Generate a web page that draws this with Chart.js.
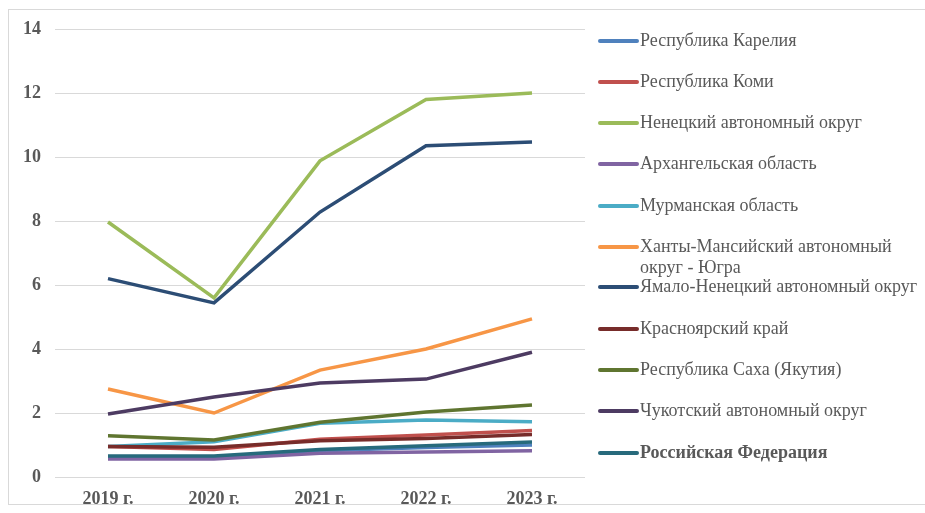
<!DOCTYPE html>
<html>
<head>
<meta charset="utf-8">
<script src="https://cdn.jsdelivr.net/npm/chart.js@4"></script>
<style>
    html, body { margin: 0; padding: 0; background: #fff; }
    #wrap { position: relative; width: 925px; height: 513px; overflow: hidden; }
    #frame { position: absolute; left: 8px; top: 9px; width: 930px; height: 496px; border: 1px solid #d9d9d9; box-sizing: border-box; }
    #chart { position: absolute; left: 0; top: 0; }
    #legend { position: absolute; left: 598px; top: 0; font-family: 'Liberation Serif', 'Times New Roman', serif; font-size: 18px; color: #595959; }
    .item { position: absolute; left: 0; white-space: nowrap; line-height: 21px; }
    .item .swatch { position: absolute; left: 0; top: 9px; width: 41px; height: 4px; border-radius: 2px; }
    .item .txt { position: absolute; left: 42px; top: 0; }
</style>
</head>
<body>
<div id="wrap">
    <div id="frame"></div>
    <canvas id="chart" width="925" height="513"></canvas>
    <div id="legend"></div>
</div>
<script>
// Categories and series
const years = ['2019 г.', '2020 г.', '2021 г.', '2022 г.', '2023 г.'];

const karelia      = [0.62, 0.62, 0.82, 0.92, 1.00];
const komi         = [0.95, 0.86, 1.18, 1.31, 1.45];
const nenets       = [7.97, 5.60, 9.88, 11.80, 12.00];
const arkhangelsk  = [0.56, 0.56, 0.74, 0.78, 0.82];
const murmansk     = [0.95, 1.10, 1.68, 1.78, 1.73];
const khmao        = [2.75, 2.00, 3.34, 4.00, 4.94];
const yamal        = [6.20, 5.44, 8.28, 10.35, 10.47];
const krasnoyarsk  = [0.95, 0.93, 1.13, 1.20, 1.33];
const sakha        = [1.29, 1.16, 1.71, 2.03, 2.25];
const chukotka     = [1.97, 2.50, 2.94, 3.06, 3.90];
const russia       = [0.66, 0.66, 0.86, 0.98, 1.09];

const yTicks = [0, 2, 4, 6, 8, 10, 12, 14];

const seriesNames = [
    'Республика Карелия', 'Республика Коми', 'Ненецкий автономный округ',
    'Архангельская область', 'Мурманская область',
    ['Ханты-Мансийский автономный', 'округ - Югра'],
    'Ямало-Ненецкий автономный округ', 'Красноярский край',
    'Республика Саха (Якутия)', 'Чукотский автономный округ', 'Российская Федерация'
];
const seriesData = [karelia, komi, nenets, arkhangelsk, murmansk, khmao, yamal, krasnoyarsk, sakha, chukotka, russia];
const seriesColors = ['#4f81bd', '#c0504d', '#9bbb59', '#8064a2', '#4bacc6', '#f79646',
                      '#2c4d75', '#772c2a', '#5f7530', '#4d3b62', '#276a7c'];

const font = "'Liberation Serif', 'Times New Roman', serif";

const datasets = seriesData.map((d, i) => ({
    label: Array.isArray(seriesNames[i]) ? seriesNames[i].join(' ') : seriesNames[i],
    data: d,
    borderColor: seriesColors[i],
    backgroundColor: seriesColors[i],
    borderWidth: 3.5,
    pointRadius: 0,
    tension: 0,
    order: seriesData.length - 1 - i   // later series on top, like Excel
}));

new Chart(document.getElementById('chart'), {
    type: 'line',
    data: { labels: years, datasets: datasets },
    options: {
        responsive: false,
        animation: false,
        layout: { padding: { top: 29, right: 340, bottom: 0, left: 0 } },
        plugins: { legend: { display: false }, tooltip: { enabled: false } },
        scales: {
            x: {
                offset: true,
                grid: { display: false },
                border: { display: false },
                ticks: { color: '#595959', font: { family: font, size: 18, weight: 'bold' }, padding: 4 },
                afterFit: (s) => { s.height = 36; }
            },
            y: {
                min: 0,
                max: 14,
                afterBuildTicks: (s) => { s.ticks = yTicks.map(v => ({ value: v })); },
                grid: { color: '#d9d9d9', lineWidth: 1, drawTicks: false },
                border: { display: false },
                ticks: { color: '#595959', font: { family: font, size: 18, weight: 'bold' }, padding: 14 },
                afterFit: (s) => { s.width = 55; }
            }
        }
    }
});

// HTML legend built from the dataset names
const legendTops = [30, 71, 112, 153, 195, 236, 276, 318, 359, 400, 442];
const legend = document.getElementById('legend');
seriesNames.forEach((name, i) => {
    const item = document.createElement('div');
    item.className = 'item';
    item.style.top = legendTops[i] + 'px';
    const sw = document.createElement('div');
    sw.className = 'swatch';
    sw.style.background = seriesColors[i];
    const txt = document.createElement('div');
    txt.className = 'txt';
    if (i === seriesNames.length - 1) txt.style.fontWeight = 'bold';
    txt.innerHTML = Array.isArray(name) ? name.join('<br>') : name;
    item.appendChild(sw);
    item.appendChild(txt);
    legend.appendChild(item);
});
</script>
</body>
</html>
